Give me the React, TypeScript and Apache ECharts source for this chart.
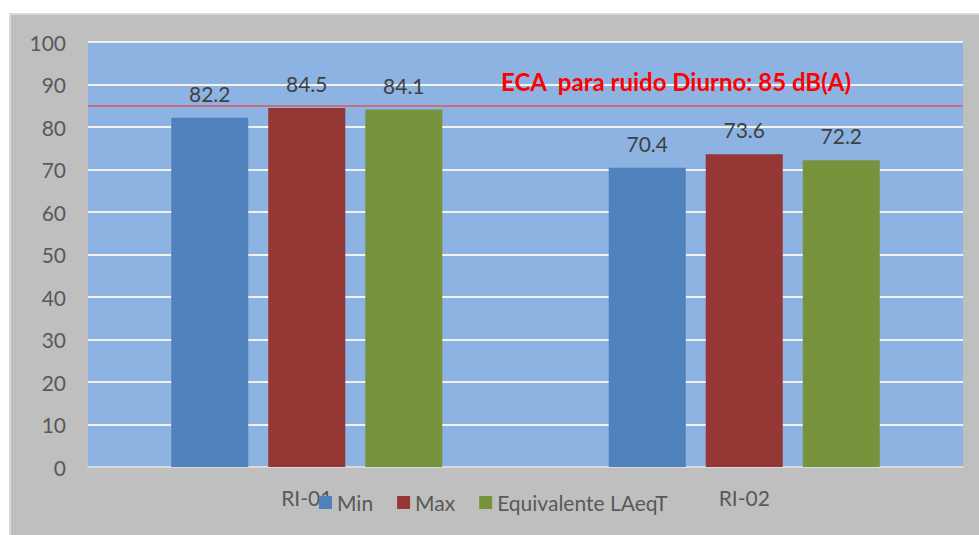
import React, { useEffect, useRef } from "react";
import * as echarts from "echarts";

const categories = ["RI-01", "RI-02"];
const minValues = [82.2, 70.4];
const maxValues = [84.5, 73.6];
const eqValues = [84.1, 72.2];
const seriesNames = ["Min", "Max", "Equivalente LAeqT"];
const limitValue = 85;
const limitLabel = "ECA  para ruido Diurno: 85 dB(A)";

const FONT = "Lato, 'Noto Sans', sans-serif";

export default function App() {
  const ref = useRef<HTMLDivElement>(null);
  useEffect(() => {
    if (!ref.current) return;
    const chart = echarts.init(ref.current, undefined, { renderer: "svg" });
    const label = {
      show: true,
      position: "top" as const,
      distance: 14,
      color: "#404040",
      fontSize: 21,
      fontFamily: FONT,
      formatter: (p: any) => Number(p.value).toFixed(1),
    };
    chart.setOption({
      animation: false,
      backgroundColor: "#ffffff",
      textStyle: { fontFamily: FONT },
      graphic: [
        {
          type: "rect",
          z: -10,
          silent: true,
          shape: { x: 10, y: 14, width: 975, height: 530 },
          style: { fill: "#BFBFBF", stroke: "#D9D9D9", lineWidth: 2 },
        },
        {
          type: "text",
          z: 10,
          x: 501,
          y: 81,
          style: {
            text: limitLabel,
            fill: "#FF0000",
            fontSize: 24,
            fontWeight: "bold",
            fontFamily: FONT,
            verticalAlign: "middle",
          },
        },
      ],
      grid: {
        left: 88,
        right: 16,
        top: 42,
        bottom: 68,
        show: true,
        backgroundColor: "#8DB3E2",
        borderWidth: 0,
      },
      legend: {
        data: seriesNames,
        bottom: 17,
        left: 314,
        itemWidth: 13,
        itemHeight: 13,
        itemGap: 24,
        icon: "rect",
        textStyle: { color: "#595959", fontSize: 21, fontFamily: FONT },
      },
      xAxis: {
        type: "category",
        data: categories,
        axisLine: { show: true, lineStyle: { color: "#D9D9D9", width: 2 } },
        axisTick: { show: false },
        axisLabel: { color: "#595959", fontSize: 21, fontFamily: FONT, margin: 20 },
      },
      yAxis: {
        type: "value",
        min: 0,
        max: 100,
        interval: 10,
        axisLine: { show: false },
        axisTick: { show: false },
        axisLabel: { color: "#595959", fontSize: 21, fontFamily: FONT, margin: 22 },
        splitLine: { show: true, lineStyle: { color: "#F2F2F2", width: 2 } },
      },
      series: [
        {
          name: seriesNames[0],
          type: "bar",
          data: minValues,
          barWidth: 77,
          barGap: "26%",
          itemStyle: { color: "#4F81BD" },
          label,
          markLine: {
            silent: true,
            symbol: "none",
            label: { show: false },
            lineStyle: { color: "#E05561", width: 1.5, type: "solid" },
            data: [{ yAxis: limitValue }],
          },
        },
        {
          name: seriesNames[1],
          type: "bar",
          data: maxValues,
          barWidth: 77,
          barGap: "26%",
          itemStyle: { color: "#953735" },
          label,
        },
        {
          name: seriesNames[2],
          type: "bar",
          data: eqValues,
          barWidth: 77,
          barGap: "26%",
          itemStyle: { color: "#77933C" },
          label,
        },
      ],
    });
    return () => chart.dispose();
  }, []);
  return (
    <div
      ref={ref}
      style={{ position: "absolute", left: 0, top: 0, width: 979, height: 535 }}
    />
  );
}
